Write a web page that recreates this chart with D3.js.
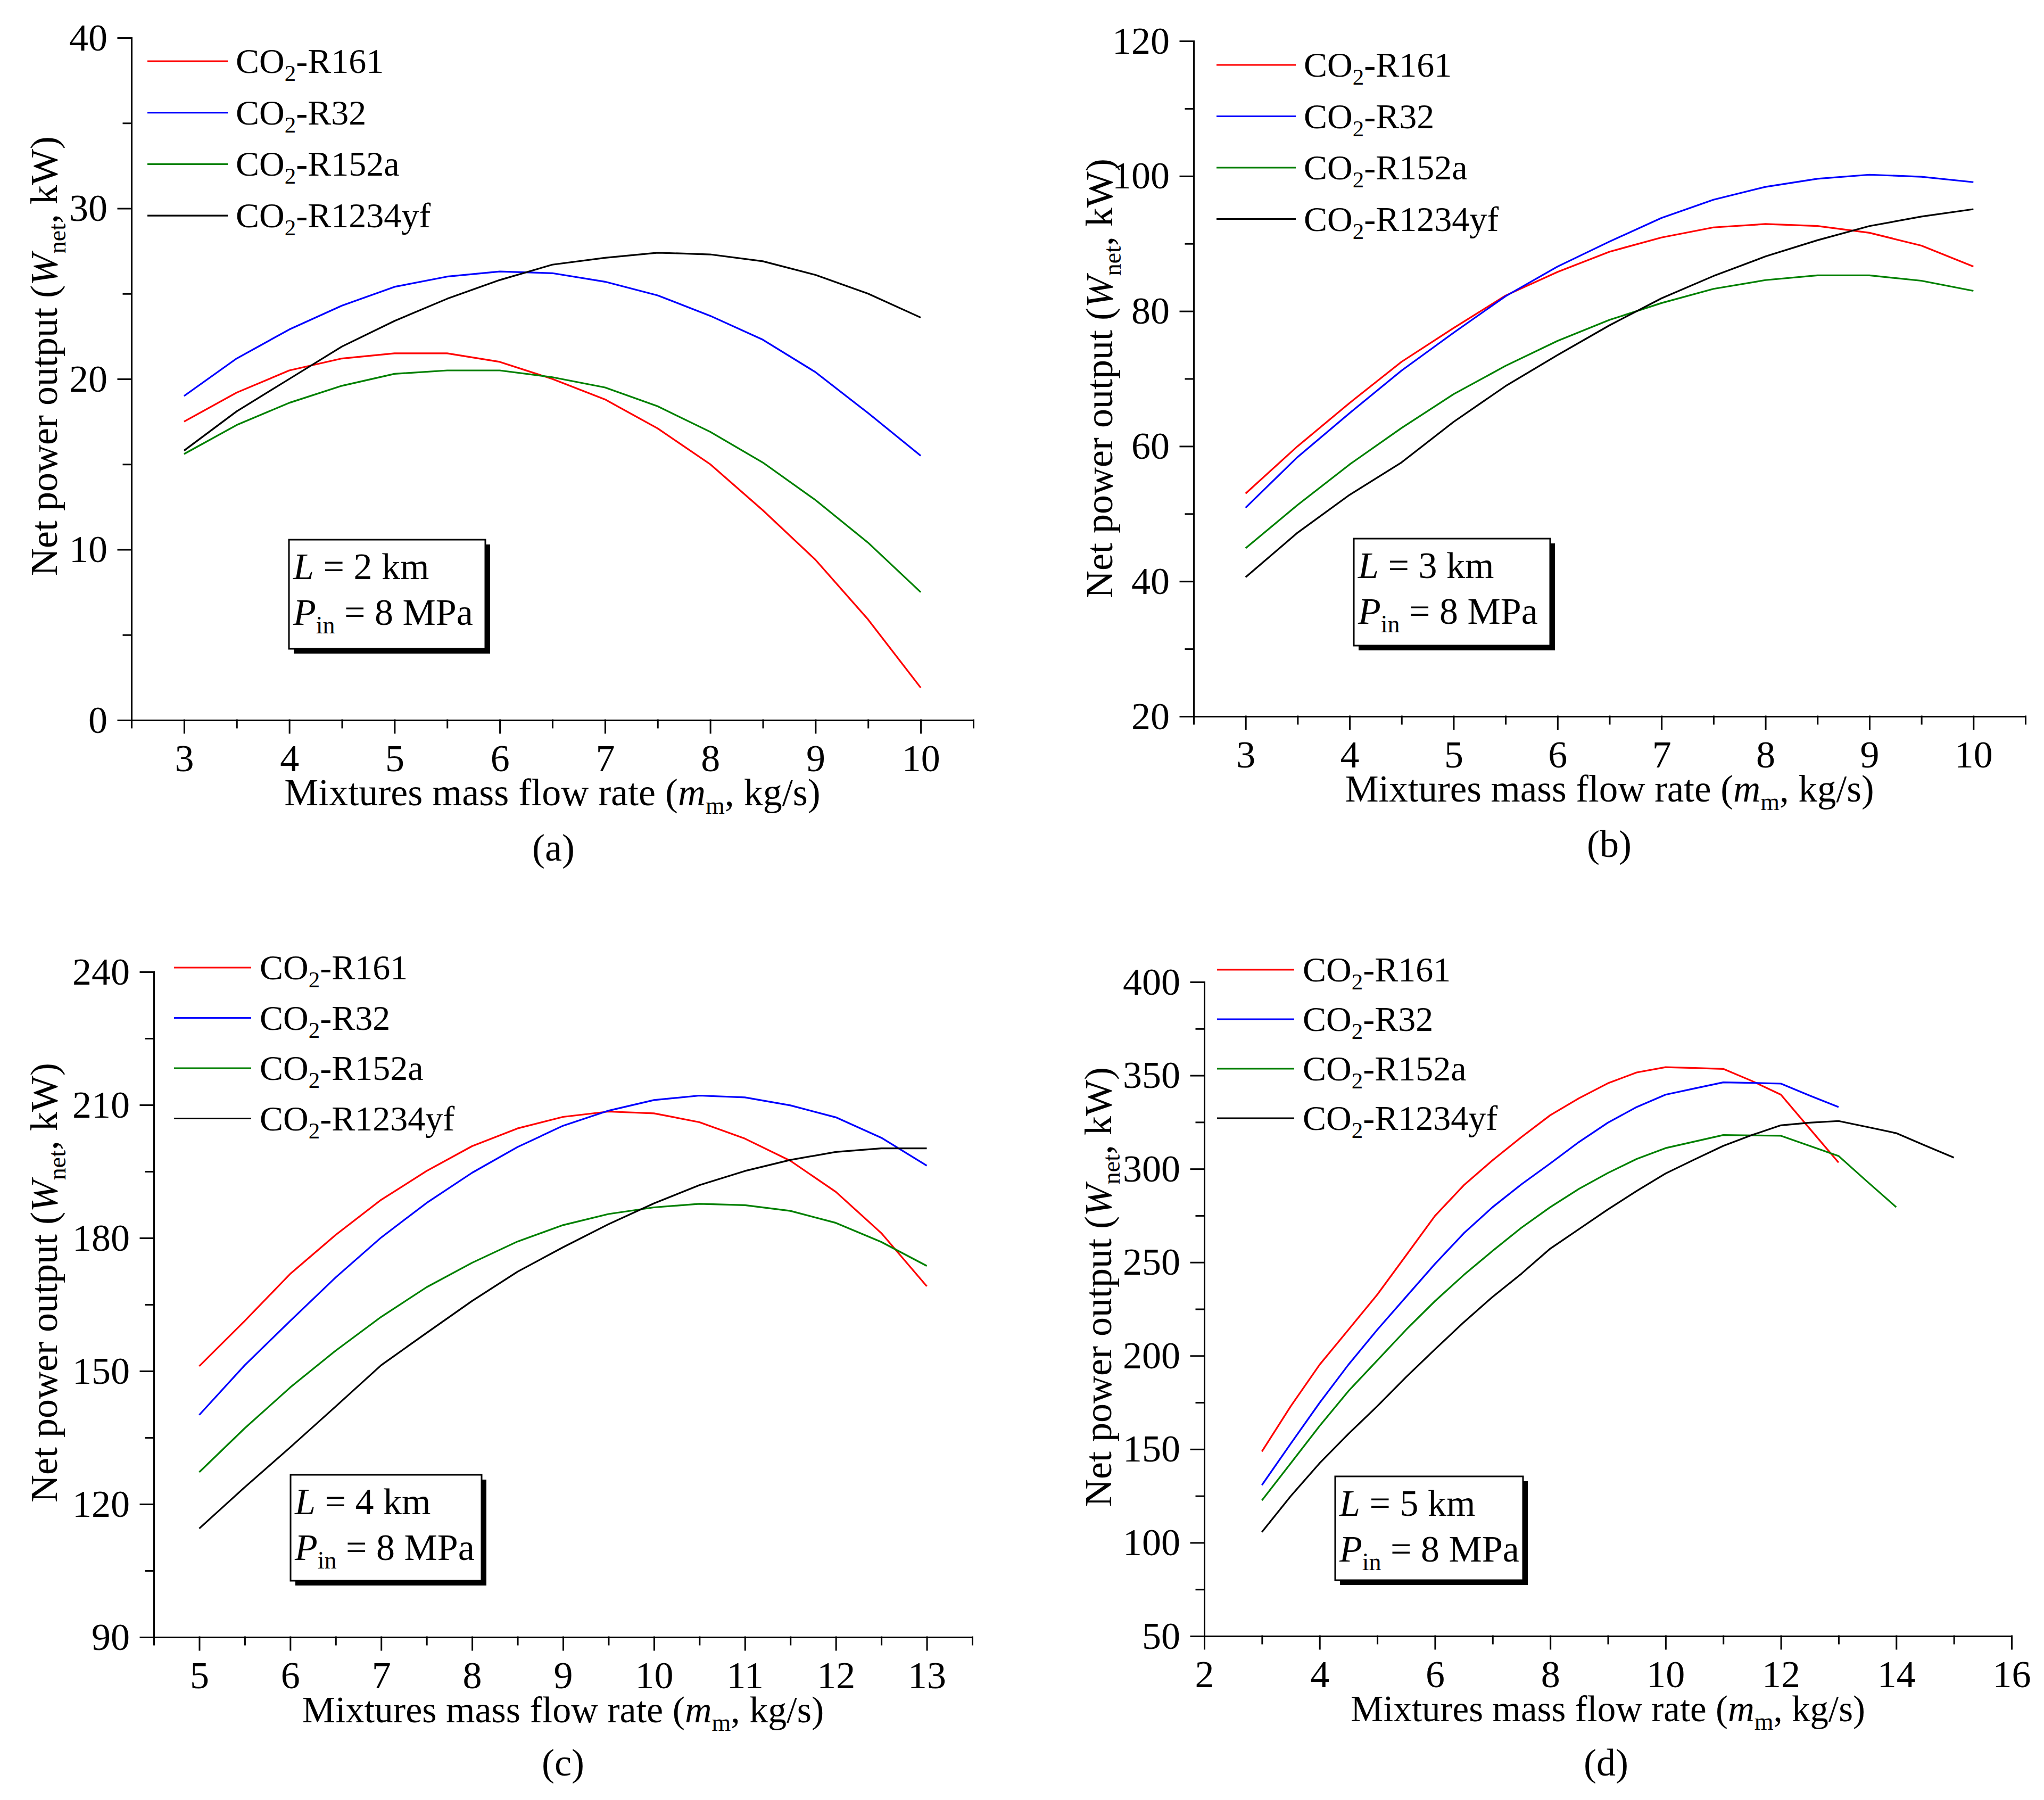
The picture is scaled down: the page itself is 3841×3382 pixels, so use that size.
<!DOCTYPE html>
<html>
<head>
<meta charset="utf-8">
<script src="https://cdn.jsdelivr.net/npm/d3@7"></script>
<style>
  html, body { margin: 0; padding: 0; background: #fff; }
  text { white-space: pre; }
</style>
</head>
<body>
<div id="chart"></div>
<script>
// ---- data ----
var seriesNames = ["R161", "R32", "R152a", "R1234yf"];
var seriesColors = ["#ff0000", "#0000ff", "#008000", "#000000"];

// (a) L = 2 km
var xA = [3, 3.5, 4, 4.5, 5, 5.5, 6, 6.5, 7, 7.5, 8, 8.5, 9, 9.5, 10];
var r161A = [17.5, 19.2, 20.5, 21.2, 21.5, 21.5, 21.0, 20.0, 18.8, 17.1, 15.0, 12.3, 9.4, 5.9, 1.9];
var r32A = [19.0, 21.2, 22.9, 24.3, 25.4, 26.0, 26.3, 26.2, 25.7, 24.9, 23.7, 22.3, 20.4, 18.0, 15.5];
var r152aA = [15.6, 17.3, 18.6, 19.6, 20.3, 20.5, 20.5, 20.1, 19.5, 18.4, 16.9, 15.1, 12.9, 10.4, 7.5];
var r1234yfA = [15.8, 18.1, 20.0, 21.9, 23.4, 24.7, 25.8, 26.7, 27.1, 27.4, 27.3, 26.9, 26.1, 25.0, 23.6];

// (b) L = 3 km
var xB = [3, 3.5, 4, 4.5, 5, 5.5, 6, 6.5, 7, 7.5, 8, 8.5, 9, 9.5, 10];
var r161B = [53.0, 60.0, 66.4, 72.5, 77.5, 82.3, 85.8, 88.8, 90.9, 92.4, 92.9, 92.6, 91.6, 89.7, 86.6];
var r32B = [50.9, 58.4, 64.9, 71.2, 76.8, 82.2, 86.6, 90.3, 93.8, 96.5, 98.4, 99.6, 100.2, 99.9, 99.1];
var r152aB = [44.9, 51.3, 57.3, 62.7, 67.7, 71.9, 75.6, 78.7, 81.2, 83.3, 84.6, 85.3, 85.3, 84.5, 83.0];
var r1234yfB = [40.6, 47.2, 52.8, 57.6, 63.6, 68.9, 73.5, 77.9, 81.9, 85.2, 88.1, 90.5, 92.6, 94.0, 95.1];

// (c) L = 4 km
var xC = [5, 5.5, 6, 6.5, 7, 7.5, 8, 8.5, 9, 9.5, 10, 10.5, 11, 11.5, 12, 12.5, 13];
var r161C = [151.1, 161.3, 171.9, 180.7, 188.6, 195.1, 200.7, 204.7, 207.3, 208.5, 208.1, 206.1, 202.4, 197.4, 190.4, 181.1, 169.1];
var r32C = [140.1, 151.3, 161.3, 171.1, 180.1, 187.9, 194.7, 200.5, 205.3, 208.7, 211.1, 212.1, 211.7, 209.9, 207.2, 202.6, 196.3];
var r152aC = [127.2, 137.1, 146.3, 154.6, 162.2, 168.9, 174.4, 179.2, 182.9, 185.4, 186.9, 187.7, 187.4, 186.1, 183.4, 179.1, 173.7];
var r1234yfC = [114.5, 123.8, 132.8, 142.0, 151.3, 158.6, 165.8, 172.4, 177.9, 183.1, 187.8, 191.9, 195.1, 197.6, 199.4, 200.2, 200.2];

// (d) L = 5 km
var xD13 = [3, 3.5, 4, 4.5, 5, 5.5, 6, 6.5, 7, 7.5, 8, 8.5, 9, 9.5, 10, 10.5, 11, 11.5, 12, 12.5, 13];
var xD14 = [3, 3.5, 4, 4.5, 5, 5.5, 6, 6.5, 7, 7.5, 8, 8.5, 9, 9.5, 10, 10.5, 11, 11.5, 12, 12.5, 13, 13.5, 14];
var xD15 = [3, 3.5, 4, 4.5, 5, 5.5, 6, 6.5, 7, 7.5, 8, 8.5, 9, 9.5, 10, 10.5, 11, 11.5, 12, 12.5, 13, 13.5, 14, 14.5, 15];
var r161D = [148.8, 173.0, 195.2, 213.9, 232.7, 253.7, 274.8, 291.2, 304.6, 317.0, 328.7, 337.8, 345.8, 351.6, 354.4, 354.0, 353.5, 347.0, 339.7, 321.5, 303.4];
var r32D = [130.8, 153.0, 174.8, 195.2, 213.9, 231.5, 249.1, 265.5, 279.5, 291.7, 302.9, 314.4, 324.7, 333.1, 339.7, 343.0, 346.3, 346.0, 345.6, 339.2, 333.1];
var r152aD = [122.6, 142.5, 162.4, 181.1, 197.5, 213.9, 229.2, 243.2, 256.1, 268.5, 279.5, 289.3, 297.8, 305.3, 311.1, 314.6, 318.1, 317.9, 317.7, 312.3, 306.9, 293.1, 279.5];
var r1234yfD = [105.7, 124.9, 142.5, 158.2, 173.0, 188.6, 203.4, 217.9, 231.5, 243.9, 257.3, 267.8, 278.3, 288.2, 297.5, 305.0, 312.3, 318.1, 323.3, 324.7, 325.6, 322.4, 319.1, 312.5, 306.0];

// tick labels
var xTicksAB = [3, 4, 5, 6, 7, 8, 9, 10];
var xMinorAB = [2.5, 3.5, 4.5, 5.5, 6.5, 7.5, 8.5, 9.5, 10.5];
var xTicksC = [5, 6, 7, 8, 9, 10, 11, 12, 13];
var xMinorC = [4.5, 5.5, 6.5, 7.5, 8.5, 9.5, 10.5, 11.5, 12.5, 13.5];
var xTicksD = [2, 4, 6, 8, 10, 12, 14, 16];
var xMinorD = [3, 5, 7, 9, 11, 13, 15];
var yTicksA = [0, 10, 20, 30, 40];
var yMinorA = [5, 15, 25, 35];
var yTicksB = [20, 40, 60, 80, 100, 120];
var yMinorB = [30, 50, 70, 90, 110];
var yTicksC = [90, 120, 150, 180, 210, 240];
var yMinorC = [105, 135, 165, 195, 225];
var yTicksD = [50, 100, 150, 200, 250, 300, 350, 400];
var yMinorD = [75, 125, 175, 225, 275, 325, 375];
var lengthsKm = [2, 3, 4, 5];

// ---- layout (pixel positions only) ----
var W = 3841, H = 3382;
var FONT = "'Liberation Serif', 'Times New Roman', serif";

function mk(xs, ys) {
	return ys.map(function(arr, i){
		return { name: seriesNames[i], color: seriesColors[i], x: xs[i], y: arr };
	});
}

var PANELS = [
	{ tag: "(a)", km: lengthsKm[0], left: 247, right: 1829, top: 71, bottom: 1353,
	  xDomain: [2.5, 10.5], yDomain: [0, 40],
	  xMajor: xTicksAB, xMinor: xMinorAB, yMajor: yTicksA, yMinor: yMinorA,
	  series: mk([xA, xA, xA, xA], [r161A, r32A, r152aA, r1234yfA]),
	  leg: { x1: 277, x2: 428, tx: 443, y: 115, step: 96.7 },
	  box: { x: 543, y: 1014, w: 369, h: 205 },
	  xTitleSize: 72,
	  yTitle: { x: 107, y: 669 }, label: { x: 1040, y: 1617 } },
	{ tag: "(b)", km: lengthsKm[1], left: 2243, right: 3806, top: 77, bottom: 1346,
	  xDomain: [2.5, 10.5], yDomain: [20, 120],
	  xMajor: xTicksAB, xMinor: xMinorAB, yMajor: yTicksB, yMinor: yMinorB,
	  series: mk([xB, xB, xB, xB], [r161B, r32B, r152aB, r1234yfB]),
	  leg: { x1: 2286, x2: 2435, tx: 2450, y: 122, step: 96.5 },
	  box: { x: 2544, y: 1012, w: 369, h: 201 },
	  xTitleSize: 71,
	  yTitle: { x: 2090, y: 711 }, label: { x: 3024, y: 1610 } },
	{ tag: "(c)", km: lengthsKm[2], left: 289, right: 1827, top: 1826, bottom: 3076,
	  xDomain: [4.5, 13.5], yDomain: [90, 240],
	  xMajor: xTicksC, xMinor: xMinorC, yMajor: yTicksC, yMinor: yMinorC,
	  series: mk([xC, xC, xC, xC], [r161C, r32C, r152aC, r1234yfC]),
	  leg: { x1: 327, x2: 472, tx: 488, y: 1818, step: 94.5 },
	  box: { x: 546, y: 2771, w: 359, h: 199 },
	  xTitleSize: 70,
	  yTitle: { x: 107, y: 2410 }, label: { x: 1058, y: 3336 } },
	{ tag: "(d)", km: lengthsKm[3], left: 2263, right: 3780, top: 1845, bottom: 3074,
	  xDomain: [2, 16], yDomain: [50, 400],
	  xMajor: xTicksD, xMinor: xMinorD, yMajor: yTicksD, yMinor: yMinorD,
	  series: mk([xD13, xD13, xD14, xD15], [r161D, r32D, r152aD, r1234yfD]),
	  leg: { x1: 2287, x2: 2432, tx: 2448, y: 1822, step: 93 },
	  box: { x: 2509, y: 2774, w: 353, h: 195 },
	  xTitleSize: 69,
	  yTitle: { x: 2088, y: 2418 }, label: { x: 3018, y: 3336 } }
];

var svg = d3.select("#chart").append("svg")
	.attr("width", W)
	.attr("height", H)
	.attr("font-family", FONT);

svg.append("rect").attr("width", W).attr("height", H).attr("fill", "#fff");

function styleAxis(sel){
	sel.selectAll(".domain, .tick line")
		.attr("stroke", "#000")
		.attr("stroke-width", 3)
		.attr("stroke-linecap", "square");
	sel.selectAll("text")
		.attr("fill", "#000")
		.attr("font-size", 72)
		.attr("font-family", FONT);
}

function drawPanel(p){
	var g = svg.append("g");
	var x = d3.scaleLinear().domain(p.xDomain).range([p.left, p.right]);
	var y = d3.scaleLinear().domain(p.yDomain).range([p.bottom, p.top]);

	// minor ticks
	g.append("g")
		.attr("transform", `translate(0,${p.bottom})`)
		.call(d3.axisBottom(x).tickValues(p.xMinor).tickSize(14).tickSizeOuter(0).tickFormat(""))
		.call(s => s.select(".domain").remove())
		.call(styleAxis);
	g.append("g")
		.attr("transform", `translate(${p.left},0)`)
		.call(d3.axisLeft(y).tickValues(p.yMinor).tickSize(15).tickSizeOuter(0).tickFormat(""))
		.call(s => s.select(".domain").remove())
		.call(styleAxis);

	// major axes
	g.append("g")
		.attr("transform", `translate(0,${p.bottom})`)
		.call(d3.axisBottom(x).tickValues(p.xMajor).tickSize(24).tickSizeOuter(0).tickPadding(21).tickFormat(d3.format("d")))
		.call(styleAxis);
	g.append("g")
		.attr("transform", `translate(${p.left},0)`)
		.call(d3.axisLeft(y).tickValues(p.yMajor).tickSize(25).tickSizeOuter(0).tickPadding(20).tickFormat(d3.format("d")))
		.call(styleAxis);

	// curves
	var line = d3.line().x(d => x(d[0])).y(d => y(d[1]));
	g.selectAll("path.series")
		.data(p.series)
		.join("path")
		.attr("class", "series")
		.attr("fill", "none")
		.attr("stroke", d => d.color)
		.attr("stroke-width", 3.2)
		.attr("stroke-linejoin", "round")
		.attr("d", d => line(d.x.map((v, i) => [v, d.y[i]])));

	// legend
	var leg = g.selectAll("g.leg")
		.data(p.series)
		.join("g")
		.attr("class", "leg")
		.attr("transform", (d, i) => `translate(0,${p.leg.y + i*p.leg.step})`);
	leg.append("line")
		.attr("x1", p.leg.x1).attr("x2", p.leg.x2)
		.attr("stroke", d => d.color)
		.attr("stroke-width", 3.2);
	var lt = leg.append("text")
		.attr("x", p.leg.tx)
		.attr("y", 22)
		.attr("font-size", 66)
		.attr("fill", "#000");
	lt.append("tspan").text("CO");
	lt.append("tspan").attr("font-size", 43).attr("dy", 15).text("2");
	lt.append("tspan").attr("dy", -15).text(d => "-" + d.name);

	// annotation box with drop shadow
	g.append("rect")
		.attr("x", p.box.x + 9).attr("y", p.box.y + 9)
		.attr("width", p.box.w).attr("height", p.box.h)
		.attr("fill", "#000");
	g.append("rect")
		.attr("x", p.box.x).attr("y", p.box.y)
		.attr("width", p.box.w).attr("height", p.box.h)
		.attr("fill", "#fff")
		.attr("stroke", "#000")
		.attr("stroke-width", 3);
	var t1 = g.append("text")
		.attr("x", p.box.x + 8).attr("y", p.box.y + 74)
		.attr("font-size", 70).attr("fill", "#000");
	t1.append("tspan").attr("font-style", "italic").text("L");
	t1.append("tspan").text(` = ${p.km} km`);
	var t2 = g.append("text")
		.attr("x", p.box.x + 8).attr("y", p.box.y + 160)
		.attr("font-size", 70).attr("fill", "#000");
	t2.append("tspan").attr("font-style", "italic").text("P");
	t2.append("tspan").attr("font-size", 46).attr("dy", 16).text("in");
	t2.append("tspan").attr("dy", -16).text(" = 8 MPa");

	// axis titles
	var xt = g.append("text")
		.attr("x", (p.left + p.right)/2)
		.attr("y", p.bottom + 160)
		.attr("text-anchor", "middle")
		.attr("font-size", p.xTitleSize).attr("fill", "#000");
	xt.append("tspan").text("Mixtures mass flow rate (");
	xt.append("tspan").attr("font-style", "italic").text("m");
	xt.append("tspan").attr("font-size", 46).attr("dy", 16).text("m");
	xt.append("tspan").attr("dy", -16).text(", kg/s)");

	var yt = g.append("text")
		.attr("transform", `translate(${p.yTitle.x},${p.yTitle.y}) rotate(-90)`)
		.attr("text-anchor", "middle")
		.attr("font-size", 72).attr("fill", "#000");
	yt.append("tspan").text("Net power output (");
	yt.append("tspan").attr("font-style", "italic").text("W");
	yt.append("tspan").attr("font-size", 46).attr("dy", 16).text("net");
	yt.append("tspan").attr("dy", -16).text(", kW)");

	// panel tag
	g.append("text")
		.attr("x", p.label.x).attr("y", p.label.y)
		.attr("text-anchor", "middle")
		.attr("font-size", 72).attr("fill", "#000")
		.text(p.tag);
}

PANELS.forEach(drawPanel);
</script>
</body>
</html>
